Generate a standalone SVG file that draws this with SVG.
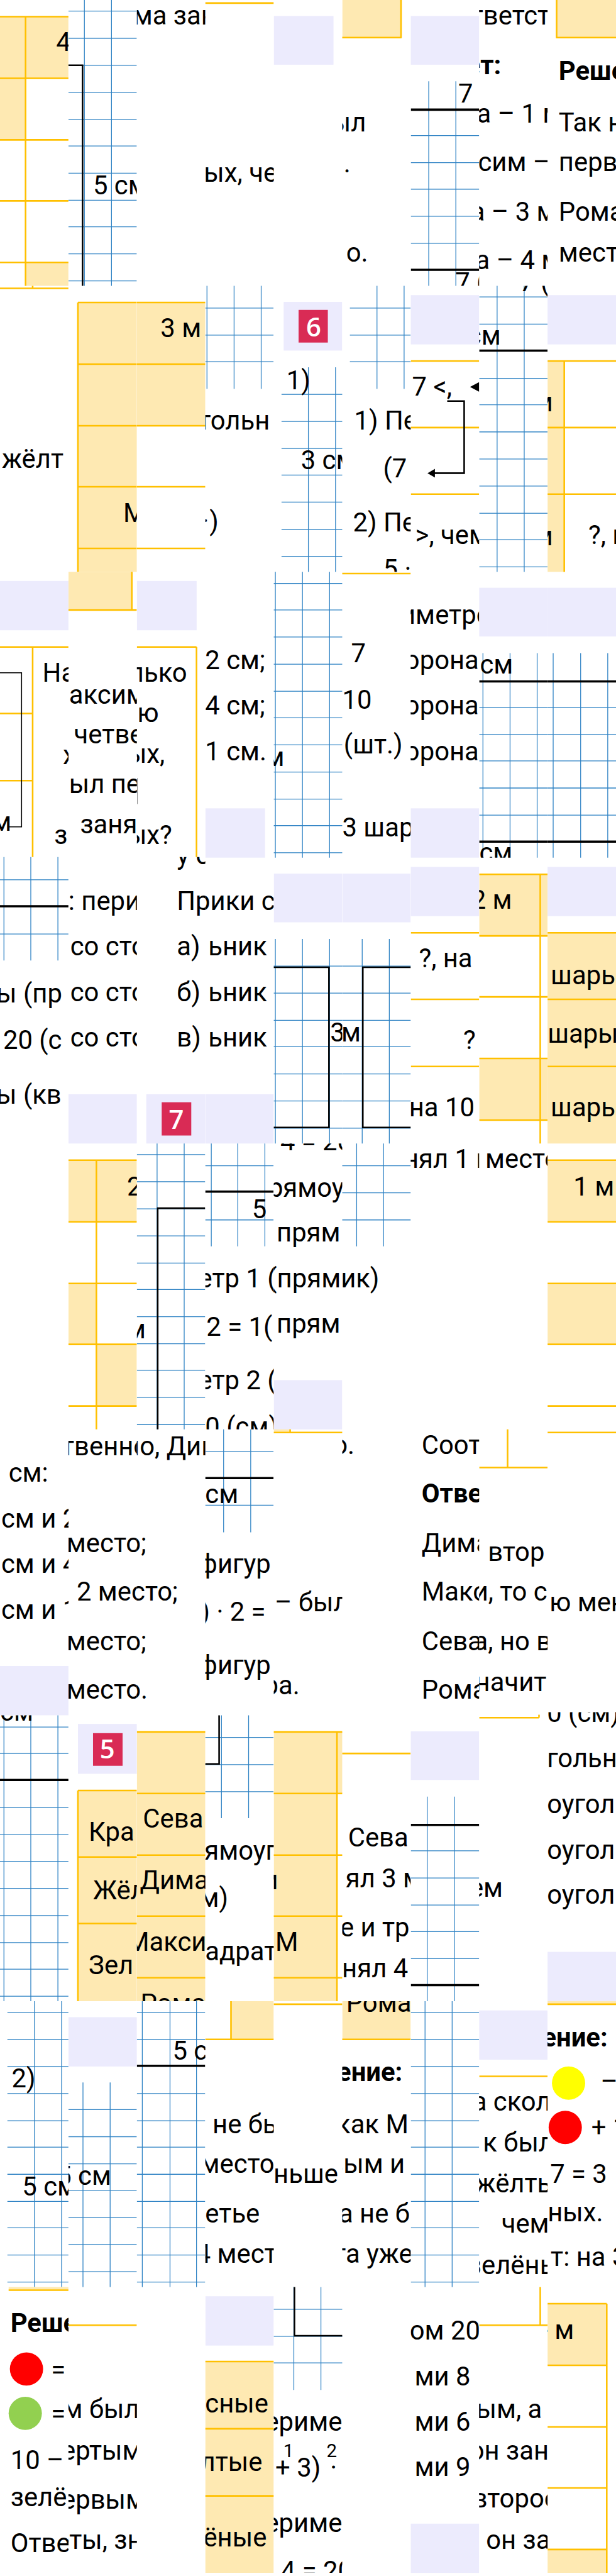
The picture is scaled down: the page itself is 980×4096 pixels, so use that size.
<svg xmlns="http://www.w3.org/2000/svg" width="980" height="4096" viewBox="0 0 980 4096">
<style>
text{font-family:Roboto,"Noto Sans",sans-serif;font-size:42.67px;fill:#000}
.b{font-weight:700}
.s{font-size:30px}
.w{font-family:"Open Sans","Noto Sans",sans-serif;font-weight:600;fill:#fff}
.f{fill:#FEE9B2}
.l{fill:#ECEBFD}
.r{fill:#D92B55}
.y{fill:none;stroke:#FFC000;stroke-width:2.6}
.g{fill:none;stroke:#2E82C4;stroke-width:1.3}
.k{fill:none;stroke:#000;stroke-width:2.6}
.kk{fill:none;stroke:#000;stroke-width:3.6}
</style>
<defs>
<clipPath id="c0"><rect x="0" y="0" width="111.1" height="4181"/></clipPath>
<clipPath id="c1"><rect x="111.1" y="0" width="111.1" height="4181"/></clipPath>
<clipPath id="c2"><rect x="222.2" y="0" width="111.1" height="4181"/></clipPath>
<clipPath id="c3"><rect x="333.3" y="0" width="111.1" height="4181"/></clipPath>
<clipPath id="c4"><rect x="444.4" y="0" width="111.2" height="4181"/></clipPath>
<clipPath id="c5"><rect x="555.6" y="0" width="111.1" height="4181"/></clipPath>
<clipPath id="c6"><rect x="666.7" y="0" width="111.1" height="4181"/></clipPath>
<clipPath id="c7"><rect x="777.8" y="0" width="111.1" height="4181"/></clipPath>
<clipPath id="c8"><rect x="888.9" y="0" width="111.1" height="4181"/></clipPath>
<clipPath id="a464"><rect x="0" y="0" width="1000" height="464"/></clipPath>
<clipPath id="b464"><rect x="0" y="464" width="1000" height="200"/></clipPath>
<clipPath id="a928"><rect x="0" y="800" width="1000" height="128"/></clipPath>
<clipPath id="a1392"><rect x="0" y="1000" width="1000" height="392"/></clipPath>
<clipPath id="b1391"><rect x="0" y="1391" width="1000" height="100"/></clipPath>
<clipPath id="a2320"><rect x="0" y="2200" width="1000" height="120"/></clipPath>
<clipPath id="b1856"><rect x="0" y="1856" width="1000" height="100"/></clipPath>
<clipPath id="b2779"><rect x="0" y="2779" width="1000" height="100"/></clipPath>
<clipPath id="b2784"><rect x="0" y="2784" width="1000" height="100"/></clipPath>
<clipPath id="a3248"><rect x="0" y="3100" width="1000" height="148"/></clipPath>
<clipPath id="b3248"><rect x="0" y="3248" width="1000" height="100"/></clipPath>
<clipPath id="a4176"><rect x="0" y="4100" width="1000" height="76"/></clipPath>
</defs>
<g transform="scale(0.98 0.97967)">
<rect x="0" y="0" width="1000" height="4181" fill="#fff"/>

<g id="col-0" clip-path="url(#c0)">
<path class="f" d="M0 27H111V127H41.5V227H0ZM41.5 426H111V464H41.5Z"/>
<path class="y" d="M0 27H111M0 127H111M0 227H111M0 326H111M0 426H111M41.5 27V464M0 468H111M53 464V468M0 1050H111M53 1050V1391M0 1158H53M0 1267H53"/>
<rect class="l" x="0" y="943" width="111.1" height="80"/>
<rect class="l" x="0" y="2704" width="111.1" height="80"/>
<path class="k" style="stroke-width:1.6" d="M0 1092H35V1342H13"/>
<path class="g" d="M6.4 1391V1559M50 1391V1559M94 1391V1559M0 1428H111M0 1516H111M6.4 2784V3248M50 2784V3248M94 2784V3248M0 2803H111M0 2846H111M0 2934H111M0 2978H111M0 3021H111M0 3065H111M0 3109H111M0 3153H111M0 3196H111M0 3240H111M56 3248V3712M100 3248V3712M12 3266H111M12 3310H111M12 3354H111M12 3398H111M12 3442H111M12 3485H111M12 3529H111M12 3573H111M12 3616H111M12 3660H111M12 3704H111"/>
<path class="kk" d="M0 1471H111M0 2889H111"/>
<rect class="f" x="14" y="3712" width="97" height="4"/>
<path class="y" d="M14 3717H111"/>
<circle cx="43" cy="3845" r="27" fill="#f00"/>
<circle cx="41" cy="3917" r="27" fill="#92D050"/>
<text x="91" y="83">4</text>
<text x="3" y="759">жёлт</text>
<text x="69" y="1106">На</text>
<text x="102" y="1240">х</text>
<text x="88" y="1370">з</text>
<text x="-13" y="1348">м</text>
<text x="-6" y="1627">ы (пр</text>
<text x="5" y="1703">20 (с</text>
<text x="-6" y="1791">ы (кв</text>
<text x="14" y="2405">см:</text>
<text x="2" y="2479">см и 2</text>
<text x="2" y="2553">см и 4</text>
<text x="2" y="2627">см и 1</text>
<text x="0" y="2793" clip-path="url(#b2784)">см</text>
<text x="19" y="3388">2)</text>
<text x="36" y="3563">5 см</text>
<text class="b" x="17" y="3785">Реше</text>
<text x="83" y="3860">=</text>
<text x="83" y="3932">=</text>
<text x="17" y="4007">10 –</text>
<text x="17" y="4068">зелё</text>
<text x="17" y="4142">Отве</text>
</g>

<g id="col-1" clip-path="url(#c1)">
<path class="g" d="M137 0V464M181 0V464M111 18H222M111 62H222M111 106H222M111 150H222M111 194H222M111 237H222M111 281H222M111 325H222M111 368H222M111 412H222M111 456H222"/>
<path class="k" d="M111 106H134V464"/>
<path class="f" d="M126.5 491H222.2V928H126.5Z"/>
<path class="y" d="M126.5 491H222M126.5 591H222M126.5 691H222M126.5 790H222M126.5 890H222M126.5 491V928"/>
<path class="f" d="M111 928H214V990H111Z"/>
<path class="y" d="M214 928V990M111 990H222"/>
<rect class="l" x="111.1" y="1776" width="111.1" height="80"/>
<path class="f" d="M111 1883H222V1983H111ZM111 2083H156.5V2182H111ZM156.5 2182H222V2282H156.5Z"/>
<path class="y" d="M111 1883H222M111 1983H222M111 2083H222M111 2182H222M111 2282H222M156.5 1883V2320"/>
<rect class="l" x="126.5" y="2798" width="95.7" height="81"/>
<rect class="r" x="151" y="2813" width="48" height="53"/>
<path class="f" d="M126.5 2906H222.2V3248H126.5Z"/>
<path class="y" d="M126.5 2906H222M126.5 3014H222M126.5 3122H222M126.5 2906V3248"/>
<rect class="l" x="111.1" y="3274" width="111.1" height="80"/>
<path class="g" d="M134.7 3380V3712M178.8 3380V3712M111 3424H222M111 3468H222M111 3512H222M111 3555H222M111 3599H222M111 3643H222M111 3687H222"/>
<path class="y" d="M111 3774H222"/>
<text x="151" y="315">5 см</text>
<text x="200" y="847">М</text>
<text x="112" y="1142">аксим</text>
<text x="120" y="1207">четве</text>
<text x="112" y="1287">ыл пе</text>
<text x="130" y="1353">заня</text>
<text x="111" y="1477">: пери</text>
<text x="114" y="1551">со сто</text>
<text x="114" y="1625">со сто</text>
<text x="114" y="1699">со сто</text>
<text x="206" y="1940">2</text>
<text x="100" y="2362">твенно,</text>
<text x="108" y="2519">место;</text>
<text x="124.5" y="2598">2 место;</text>
<text x="108" y="2678">место;</text>
<text x="108" y="2757">место.</text>
<text class="w" x="162" y="2854">5</text>
<text x="144" y="2988">Кра</text>
<text x="151" y="3083">Жёл</text>
<text x="144" y="3204">Зел</text>
<text x="92" y="3546">5 см</text>
<text x="78" y="3925">им был</text>
<text x="100" y="3992">ертым</text>
<text x="100" y="4072">ервым</text>
<text x="90" y="4137">еты, зн</text>
</g>

<g id="col-2" clip-path="url(#c2)">
<path class="f" d="M222 491H333.4V691H222Z"/>
<path class="y" d="M222 491H333.4M222 591H333.4M222 691H333.4M222 790H333.4M222 890H333.4"/>
<rect class="l" x="222.2" y="943" width="97" height="80"/>
<path class="y" d="M222 1050H319M319 1050V1391"/>
<path d="M223 1263V1305" stroke="#888" stroke-width="1"/>
<rect class="l" x="237.5" y="1776" width="96" height="80"/>
<rect class="r" x="262.5" y="1789" width="48" height="54"/>
<path class="g" d="M255 1856V2320M299 1856V2320M222 1874H333M222 1918H333M222 1962H333M222 2006H333M222 2050H333M222 2093H333M222 2137H333M222 2181H333M222 2224H333M222 2268H333M222 2312H333"/>
<path class="k" d="M333 1961H256V2320"/>
<path class="f" d="M222 2810H333.4V3248H222Z"/>
<path class="y" d="M222 2811H333.4M222 2911H333.4M222 3011H333.4M222 3110H333.4M222 3210H333.4"/>
<path class="g" d="M231 3248V3712M276 3248V3712M319 3248V3712M222 3266H333M222 3310H333M222 3398H333M222 3442H333M222 3485H333M222 3529H333M222 3573H333M222 3616H333M222 3660H333M222 3704H333"/>
<path class="kk" d="M222 3353H333"/>
<text x="216" y="40">ма зан</text>
<text x="260.5" y="547">3 м</text>
<text x="209" y="1106">лько</text>
<text x="223" y="1172">ю</text>
<text x="205" y="1238">ых,</text>
<text x="205" y="1370">ых?</text>
<text x="287" y="1403" clip-path="url(#b1391)">у с</text>
<text x="287" y="1477">Прик</text>
<text x="287" y="1551">а)</text>
<text x="287" y="1625">б)</text>
<text x="287" y="1699">в)</text>
<text class="w" x="274" y="1832">7</text>
<text x="205" y="2172">м</text>
<text x="110" y="2362">твенно, Дим</text>
<text x="108" y="2519">место;</text>
<text x="124.5" y="2598">2 место;</text>
<text x="108" y="2678">место;</text>
<text x="108" y="2757">место.</text>
<text x="232" y="2966">Сева</text>
<text x="227" y="3066">Дима</text>
<text x="205" y="3166">Макси</text>
<text x="228" y="3266" clip-path="url(#a3248)">Рома</text>
<text x="280" y="3343">5 см</text>
</g>

<g id="col-3" clip-path="url(#c3)">
<path class="y" d="M333 5H444.4"/>
<path class="g" d="M336 464V631M380 464V631M424 464V631M333 500H444M333 544H444M333 587H444"/>
<rect class="l" x="333.3" y="1312" width="97" height="80"/>
<rect class="l" x="333.3" y="1776" width="111.1" height="80"/>
<path class="g" d="M343 1856V2023M386 1856V2023M430 1856V2023M333 1892H444M333 1980H444"/>
<path class="kk" d="M333 1934H444"/>
<path class="g" d="M363 2320V2487M407 2320V2487M333 2356H444M333 2443H444"/>
<path class="kk" d="M333 2399H444"/>
<path class="g" d="M359.5 2784V2951M403.6 2784V2951M333 2820H444M333 2864H444M333 2908H444"/>
<path class="k" d="M355.7 2784V2863H333"/>
<path class="f" d="M375 3248H444.4V3309H375Z"/>
<path class="y" d="M375 3248V3310M333 3310H444.4"/>
<rect class="l" x="333.3" y="3727" width="111.1" height="80"/>
<path class="f" d="M333 3833H444.4V4176H333Z"/>
<path class="y" d="M333 3833H444.4M333 3942H444.4M333 4051H444.4"/>
<text x="331" y="295">ых, че</text>
<text x="322" y="697">тольн</text>
<text x="328" y="860">·</text>
<text x="340" y="860">)</text>
<text x="333" y="1086">2 см;</text>
<text x="333" y="1160">4 см;</text>
<text x="333" y="1234">1 см.</text>
<text x="287" y="1477">Прики с</text>
<text x="338" y="1551">ьник</text>
<text x="338" y="1625">ьник</text>
<text x="338" y="1699">ьник</text>
<text x="409" y="1977">5 с</text>
<text x="322" y="2090">етр 1 (</text>
<text x="335" y="2168">2 = 1(</text>
<text x="322" y="2255">етр 2 (</text>
<text x="333" y="2330" clip-path="url(#a2320)">0 (см)</text>
<text x="333" y="2440">см</text>
<text x="322" y="2553">фигур</text>
<text x="326" y="2630">) · 2 =</text>
<text x="322" y="2717">фигур</text>
<text x="332" y="3018">ямоуг</text>
<text x="324" y="3095">м)</text>
<text x="333" y="3182">адрат</text>
<text x="345" y="3462">не бы</text>
<text x="325" y="3527">место</text>
<text x="333" y="3607">етье</text>
<text x="318" y="3673">4 мест</text>
<text x="333" y="3916">сные</text>
<text x="325" y="4011">лтые</text>
<text x="330" y="4133">ёные</text>
</g>

<g id="col-4" clip-path="url(#c4)">
<rect class="l" x="444.4" y="26" width="97" height="79"/>
<rect class="l" x="460.5" y="490" width="95" height="79"/>
<rect class="r" x="484.7" y="503" width="47.5" height="53"/>
<path class="g" d="M500.6 596V928M544.7 596V928M457 640H556M457 684H556M457 728H556M457 771H556M457 815H556M457 859H556M457 903H556"/>
<path class="g" d="M447 928V1392M491 928V1392M535 928V1392M444 947H556M444 990H556M444 1034H556M444 1078H556M444 1122H556M444 1165H556M444 1209H556M444 1253H556M444 1297H556M444 1340H556M444 1384H556"/>
<rect class="l" x="444.4" y="1418" width="111.2" height="79"/>
<path class="g" d="M447 1524V1856M491 1524V1856M535 1524V1856M444 1568H556M444 1612H556M444 1656H556M444 1699H556M444 1743H556M444 1787H556M444 1831H556"/>
<path class="k" d="M444 1570H534V1830H444"/>
<rect class="l" x="444.4" y="2240" width="111.2" height="80"/>
<rect class="f" x="444.4" y="2320" width="27" height="4"/>
<path class="y" d="M471 2320V2325M444 2325H556"/>
<path class="f" d="M444.4 2811H556V2911H547V3248H444.4Z"/>
<path class="y" d="M444 2811H556M444 2911H556M444 3011H556M444 3110H556M444 3210H556M547 2811V3248M444 3253H556"/>
<path class="g" d="M477 3712V3879M521 3712V3879M444 3748H556M444 3792H556M444 3835H556"/>
<path class="k" d="M478 3712V3791H556"/>
<text class="w" x="497" y="546">6</text>
<text x="465" y="632">1)</text>
<text x="488.5" y="762">3 см</text>
<text x="430" y="1243">м</text>
<text x="536" y="1690">3</text>
<text x="455" y="1867" clip-path="url(#b1856)">4 = 20</text>
<text x="411" y="1942">прямоу</text>
<text x="449" y="2015">прям</text>
<text x="435" y="2090">(прямик)</text>
<text x="449" y="2163">прям</text>
<text x="446" y="2615">– был</text>
<text x="428" y="2750">ра.</text>
<text x="420" y="3066">м</text>
<text x="447" y="3166">М</text>
<text x="444" y="3543">ньше</text>
<text x="430" y="3945">ериме</text>
<text class="s" x="460" y="3988">1</text>
<text class="s" x="530" y="3988">2</text>
<text x="447" y="4020">+ 3)</text>
<text x="536" y="4020">·</text>
<text x="430" y="4110">ериме</text>
<text x="456" y="4187" clip-path="url(#a4176)">4 = 20</text>
</g>

<g id="col-5" clip-path="url(#c5)">
<path class="f" d="M555.6 0H651V61H555.6Z"/>
<path class="y" d="M651 0V62M555 61H651"/>
<path class="g" d="M612 464V631M656 464V631M568 500H667M568 544H667M568 587H667"/>
<path class="y" d="M555 931H667"/>
<rect class="l" x="555.6" y="1418" width="111.1" height="79"/>
<path class="g" d="M588 1524V1856M632 1524V1856M555 1568H667M555 1612H667M555 1656H667M555 1699H667M555 1743H667M555 1787H667M555 1831H667"/>
<path class="k" d="M667 1570H589V1830H667"/>
<path class="g" d="M579 1856V2023M622.6 1856V2023M555 1892H667M555 1936H667M555 1980H667"/>
<path class="y" d="M555 2846H667"/>
<rect class="f" x="555.6" y="3248" width="111.1" height="62"/>
<path class="y" d="M555 3310H667"/>
<text x="513" y="213">был</text>
<text x="558" y="280">.</text>
<text x="562" y="425">о.</text>
<text x="575" y="697">1) Пе</text>
<text x="622" y="775">(7</text>
<text x="573" y="863">2) Пе</text>
<text x="622" y="938" clip-path="url(#a928)">5 ·</text>
<text x="570" y="1075">7</text>
<text x="555.6" y="1150">10</text>
<text x="558" y="1223">(шт.)</text>
<text x="555.6" y="1358">3 шар</text>
<text x="554" y="1690">м</text>
<text x="435" y="2090">(прямик)</text>
<text x="540" y="2360">о.</text>
<text x="565" y="2997">Сева</text>
<text x="561" y="3063">ял 3 м</text>
<text x="552" y="3143">е и тр</text>
<text x="532" y="3209">анял 4</text>
<text x="562" y="3265" clip-path="url(#b3248)">Рома</text>
<text class="b" x="547" y="3378">ение:</text>
<text x="546" y="3462">как М</text>
<text x="533" y="3527">вым и</text>
<text x="550" y="3607">а не б</text>
<text x="541" y="3673">та уже</text>
</g>

<g id="col-6" clip-path="url(#c6)">
<rect class="l" x="666.7" y="26" width="111.1" height="79"/>
<path class="g" d="M696 132V464M740 132V464M667 220H778M667 264H778M667 307H778M667 351H778M667 395H778"/>
<path class="kk" d="M667 178H778M667 438H778"/>
<rect class="l" x="666.7" y="479" width="111.1" height="80"/>
<path class="y" d="M667 586H778M667 694H778M667 802H778"/>
<path d="M778 620L763 628L778 636Z" fill="#000"/>
<path class="k" d="M726 651H753.5V768H705"/>
<path d="M694 768L706 761V775Z" fill="#000"/>
<rect class="l" x="666.7" y="1407" width="111.1" height="80"/>
<path class="y" d="M667 1514H778M667 1622H778M667 1731H778"/>
<rect class="l" x="666.7" y="1312" width="111.1" height="80"/>
<rect class="l" x="666.7" y="2810" width="111.1" height="79"/>
<path class="g" d="M693.5 2916V3248M737.5 2916V3248M667 3004H778M667 3048H778M667 3092H778M667 3135H778M667 3179H778"/>
<path class="kk" d="M667 2962H778M667 3222H778"/>
<path class="g" d="M690 3248V3712M734 3248V3712M667 3266H778M667 3310H778M667 3354H778M667 3398H778M667 3442H778M667 3485H778M667 3529H778M667 3573H778M667 3616H778M667 3660H778M667 3704H778"/>
<rect class="l" x="666.7" y="4096" width="111.1" height="80"/>
<text x="744" y="166">7</text>
<text x="739" y="473" clip-path="url(#a464)">7 (</text>
<text x="669" y="642">7 &lt;,</text>
<text x="674" y="883">&gt;, чем</text>
<text x="650" y="1013">иметро</text>
<text x="657" y="1086">орона</text>
<text x="657" y="1160">орона</text>
<text x="657" y="1234">орона</text>
<text x="680" y="1570">?, на</text>
<text x="752" y="1703">?</text>
<text x="664" y="1812">на 10</text>
<text x="655" y="1896">нял 1 место</text>
<text x="684.5" y="2360">Соот</text>
<text class="b" x="684.5" y="2439">Отве</text>
<text x="684.5" y="2519">Дима</text>
<text x="684.5" y="2598">Макс</text>
<text x="684.5" y="2678">Сева</text>
<text x="684.5" y="2757">Рома</text>
<text x="665" y="3797">ом 20</text>
<text x="673" y="3872">ми 8</text>
<text x="673" y="3945">ми 6</text>
<text x="673" y="4019">ми 9</text>
</g>

<g id="col-7" clip-path="url(#c7)">
<path class="g" d="M807 464V928M851 464V928M778 482H889M778 526H889M778 614H889M778 657H889M778 701H889M778 745H889M778 789H889M778 833H889M778 876H889M778 920H889"/>
<path class="kk" d="M778 569H889"/>
<rect class="l" x="777.8" y="954" width="111.1" height="79"/>
<path class="g" d="M784 1060V1392M828 1060V1392M872 1060V1392M778 1148H889M778 1192H889M778 1235H889M778 1279H889M778 1323H889"/>
<path class="kk" d="M778 1106H889M778 1366H889"/>
<path class="f" d="M778 1419H889V1519H778ZM778 1718H889V1818H778Z"/>
<path class="y" d="M778 1419H889M778 1519H889M778 1618H889M778 1718H889M778 1818H889M877 1419V1856"/>
<path class="y" d="M824 2320V2382M778 2382H889M778 2788H875M875 2783V2788"/>
<rect class="l" x="777.8" y="3263" width="111.1" height="80"/>
<path class="y" d="M778 3370H889M778 3774H889M877 3712V3774"/>
<text x="764" y="40">тветст</text>
<text class="b" x="757" y="120">ет:</text>
<text x="774" y="199">а – 1 м</text>
<text x="776" y="278">сим –</text>
<text x="764" y="358">а – 3 м</text>
<text x="772" y="437">а – 4 м</text>
<text x="843" y="473" clip-path="url(#b464)">7 (</text>
<text x="759" y="559">см</text>
<text x="779" y="1093">см</text>
<text x="778" y="1398" clip-path="url(#a1392)">см</text>
<text x="765" y="1475">2 м</text>
<text x="670" y="1896">нял 1 место</text>
<text x="792" y="2533">втор</text>
<text x="768" y="2598">и, то с</text>
<text x="769" y="2678">а, но в</text>
<text x="771" y="2745">начит</text>
<text x="739" y="3079">чем</text>
<text x="767" y="3426">а скол</text>
<text x="784" y="3492">к был</text>
<text x="772" y="3558">жёлты</text>
<text x="814" y="3624">чем</text>
<text x="760" y="3691">зелёны</text>
<text x="773" y="3925">ым, а</text>
<text x="762" y="3992">он зан</text>
<text x="767" y="4070">второе</text>
<text x="789" y="4137">он за</text>
</g>

<g id="col-8" clip-path="url(#c8)">
<path class="f" d="M903.6 0H1000V61H903.6Z"/>
<path class="y" d="M903.6 0V62M903 61H1000"/>
<rect class="l" x="888.9" y="479" width="111.1" height="80"/>
<path class="f" d="M889 586H916V928H889Z"/>
<path class="y" d="M889 586H1000M889 694H1000M889 802H1000M916 586V928"/>
<rect class="l" x="888.9" y="954" width="111.1" height="79"/>
<path class="g" d="M898 1060V1392M942.6 1060V1392M986.6 1060V1392M889 1148H1000M889 1192H1000M889 1235H1000M889 1279H1000M889 1323H1000"/>
<path class="kk" d="M889 1106H1000M889 1366H1000"/>
<rect class="l" x="888.9" y="1407" width="111.1" height="80"/>
<rect class="f" x="888.9" y="1514" width="111.1" height="342"/>
<path class="y" d="M889 1514H1000M889 1622H1000M889 1731H1000"/>
<path class="f" d="M889 1883H1000V1983H889ZM889 2083H1000V2182H889Z"/>
<path class="y" d="M889 1883H1000M889 1983H1000M889 2083H1000M889 2182H1000M889 2282H1000M889 2325H1000"/>
<rect class="l" x="888.9" y="3168" width="111.1" height="80"/>
<rect class="f" x="888.9" y="3248" width="111.1" height="5"/>
<path class="y" d="M889 3253H1000"/>
<circle cx="923" cy="3381" r="27" fill="#FF0"/>
<circle cx="917.6" cy="3453" r="27" fill="#f00"/>
<path class="f" d="M889 3739H985V3839H889ZM889 4138H985V4176H889Z"/>
<path class="y" d="M889 3739H985M889 3839H985M889 3939H985M889 4038H985M889 4138H985M985 3739V4176"/>
<text class="b" x="907" y="130">Реше</text>
<text x="907" y="213">Так н</text>
<text x="907" y="278">перв</text>
<text x="907" y="358">Рома</text>
<text x="907" y="425">мест</text>
<text x="866" y="668">м</text>
<text x="866" y="885">м</text>
<text x="955" y="883">?, н</text>
<text x="894" y="1597">шарь</text>
<text x="889" y="1692">шары</text>
<text x="894" y="1812">шарь</text>
<text x="931" y="1940">1 м</text>
<text x="892" y="2615">ю мен</text>
<text x="888" y="2795" clip-path="url(#b2779)">0 (см)</text>
<text x="888" y="2868">гольн</text>
<text x="888" y="2943">оугол</text>
<text x="888" y="3017">оугол</text>
<text x="888" y="3090">оугол</text>
<text class="b" x="880" y="3322">ение:</text>
<text x="975" y="3393">–</text>
<text x="960" y="3468">+ 1</text>
<text x="893" y="3543">7 = 3</text>
<text x="889" y="3605">ных.</text>
<text x="894" y="3678">т: на 3</text>
<text x="878" y="3796">- м</text>
</g>
</g>
</svg>
